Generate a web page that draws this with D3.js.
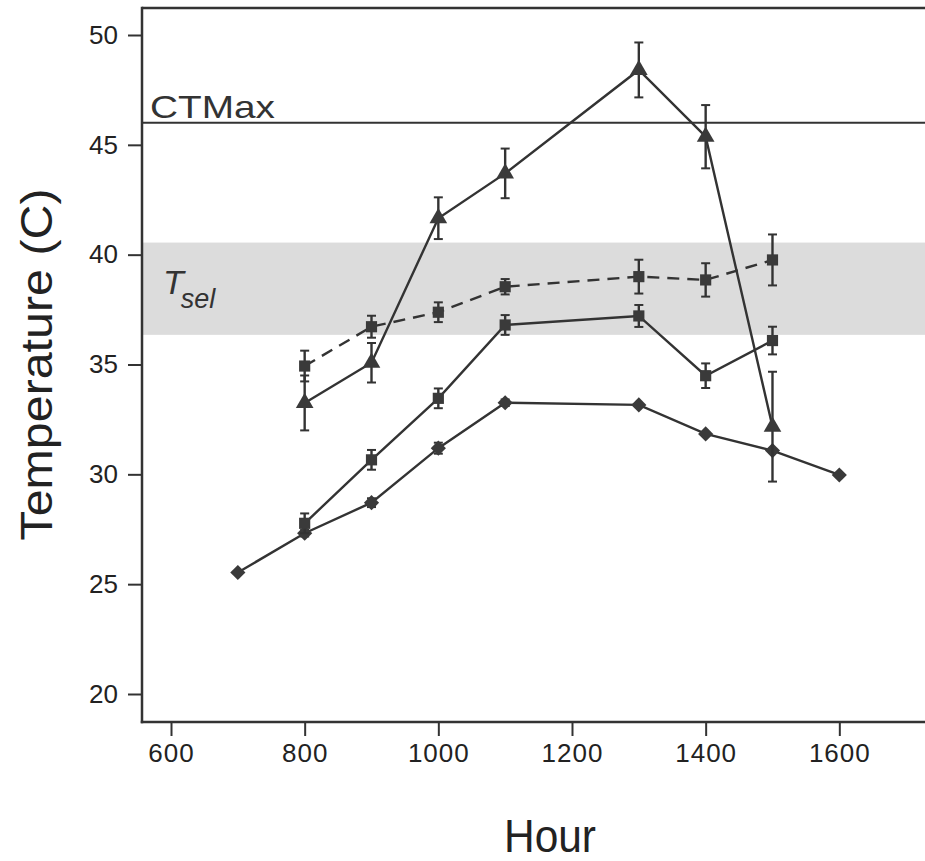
<!DOCTYPE html>
<html>
<head>
<meta charset="utf-8">
<script src="https://cdn.jsdelivr.net/npm/d3@7/dist/d3.min.js"></script>
<style>
  html, body { margin: 0; padding: 0; background: #fff; }
  svg { display: block; font-family: "Liberation Sans", Arial, Helvetica, sans-serif; }
</style>
</head>
<body>
<svg id="chart" width="925" height="861"></svg>
<script>
// ---- data ----
const hours = [700, 800, 900, 1000, 1100, 1300, 1400, 1500, 1600];
const xTicks = [600, 800, 1000, 1200, 1400, 1600];
const yTicks = [20, 25, 30, 35, 40, 45, 50];

// triangles, solid line
const triHours = [800, 900, 1000, 1100, 1300, 1400, 1500];
const triMean  = [33.25, 35.08, 41.66, 43.70, 48.41, 45.37, 32.17];
const triErr   = [1.25, 0.9, 0.95, 1.13, 1.25, 1.44, 2.5];

// squares, dashed line
const sqdHours = [800, 900, 1000, 1100, 1300, 1400, 1500];
const sqdMean  = [34.93, 36.72, 37.38, 38.54, 39.0, 38.85, 39.76];
const sqdErr   = [0.7, 0.5, 0.45, 0.35, 0.77, 0.76, 1.16];

// squares, solid line
const sqHours = [800, 900, 1000, 1100, 1300, 1400, 1500];
const sqMean  = [27.77, 30.66, 33.46, 36.80, 37.21, 34.49, 36.09];
const sqErr   = [0.45, 0.45, 0.45, 0.45, 0.5, 0.56, 0.63];

// diamonds, solid line
const diaHours = [700, 800, 900, 1000, 1100, 1300, 1400, 1500, 1600];
const diaMean  = [25.53, 27.32, 28.71, 31.19, 33.26, 33.16, 31.84, 31.08, 29.97];
const diaErr   = [0, 0.15, 0.2, 0.25, 0.15, 0, 0, 0, 0];

const ctMax = 46;
const tselBand = [36.35, 40.55];

// ---- layout ----
const svg = d3.select("#chart");
const pLeft = 142, pRight = 925, pTop = 8, pBottom = 722;
const x = d3.scaleLinear().domain([556.6, 1728.2]).range([pLeft, pRight]);
const y = d3.scaleLinear().domain([20, 50]).range([694, 35]);
const ink = "#333";

// band
svg.append("rect")
  .attr("x", pLeft).attr("width", pRight - pLeft)
  .attr("y", y(tselBand[1])).attr("height", y(tselBand[0]) - y(tselBand[1]))
  .attr("fill", "#dcdcdc");

// CTMax line
svg.append("line")
  .attr("x1", pLeft).attr("x2", pRight)
  .attr("y1", y(ctMax)).attr("y2", y(ctMax))
  .attr("stroke", ink).attr("stroke-width", 2);
svg.append("text")
  .attr("x", 150).attr("y", y(ctMax) - 5)
  .attr("font-size", 32).attr("fill", ink)
  .attr("textLength", 125).attr("lengthAdjust", "spacingAndGlyphs")
  .text("CTMax");

// Tsel label
const tsel = svg.append("text").attr("x", 163).attr("y", 294).attr("fill", ink).attr("font-style", "italic");
tsel.append("tspan").attr("font-size", 34).text("T");
tsel.append("tspan").attr("font-size", 27).attr("dx", -3).attr("dy", 14).text("sel");

// frame: top
svg.append("line").attr("x1", pLeft).attr("x2", pRight).attr("y1", pTop).attr("y2", pTop)
  .attr("stroke", ink).attr("stroke-width", 2.5);

// axes
const yAxis = d3.axisLeft(y).tickValues(yTicks).tickSize(14).tickPadding(10).tickFormat(d3.format("d"));
const gy = svg.append("g").attr("transform", `translate(${pLeft},0)`).call(yAxis);
gy.select(".domain").remove();
svg.append("line").attr("x1", pLeft).attr("x2", pLeft).attr("y1", pTop - 1.25).attr("y2", pBottom + 1.25)
  .attr("stroke", ink).attr("stroke-width", 2.5);

const xAxis = d3.axisBottom(x).tickValues(xTicks).tickSize(14).tickPadding(8).tickFormat(d3.format("d"));
const gx = svg.append("g").attr("transform", `translate(0,${pBottom})`).call(xAxis);
gx.select(".domain").remove();
svg.append("line").attr("x1", pLeft - 1.25).attr("x2", pRight).attr("y1", pBottom).attr("y2", pBottom)
  .attr("stroke", ink).attr("stroke-width", 2.5);

[gx, gy].forEach(g => {
  g.selectAll(".tick line").attr("stroke", ink).attr("stroke-width", 2);
  g.selectAll(".tick text").attr("fill", "#222").attr("font-size", 26)
    .attr("font-family", "'Liberation Sans', Arial, sans-serif");
});
gx.selectAll(".tick text").attr("letter-spacing", 1);

// axis titles
svg.append("text")
  .attr("transform", `translate(52,${y(35)}) rotate(-90)`)
  .attr("text-anchor", "middle").attr("font-size", 44).attr("fill", "#222")
  .attr("textLength", 352).attr("lengthAdjust", "spacingAndGlyphs")
  .text("Temperature (C)");
svg.append("text")
  .attr("x", 550).attr("y", 852).attr("text-anchor", "middle")
  .attr("font-size", 46).attr("fill", "#222")
  .attr("textLength", 92).attr("lengthAdjust", "spacingAndGlyphs")
  .text("Hour");

// ---- series ----
function pack(hs, ms, es) { return hs.map((h, i) => ({ h, m: ms[i], e: es[i] })); }
const series = [
  { data: pack(diaHours, diaMean, diaErr), shape: "diamond", dash: null },
  { data: pack(sqHours, sqMean, sqErr), shape: "square", dash: null },
  { data: pack(sqdHours, sqdMean, sqdErr), shape: "square", dash: "12,8" },
  { data: pack(triHours, triMean, triErr), shape: "triangle", dash: null },
];

const line = d3.line().x(d => x(d.h)).y(d => y(d.m));
const symbols = {
  diamond: d3.symbol().type(d3.symbolSquare).size(115),
  square: d3.symbol().type(d3.symbolSquare).size(125),
  triangle: d3.symbol().type(d3.symbolTriangle).size(135),
};

series.forEach(s => {
  const g = svg.append("g");
  g.append("path").datum(s.data).attr("d", line)
    .attr("fill", "none").attr("stroke", ink).attr("stroke-width", 2.4)
    .attr("stroke-dasharray", s.dash);
  // error bars
  const eb = g.selectAll(".eb").data(s.data.filter(d => d.e > 0)).join("g");
  eb.append("line")
    .attr("x1", d => x(d.h)).attr("x2", d => x(d.h))
    .attr("y1", d => y(d.m + d.e)).attr("y2", d => y(d.m - d.e))
    .attr("stroke", ink).attr("stroke-width", 2.4);
  [1, -1].forEach(sgn => {
    eb.append("line")
      .attr("x1", d => x(d.h) - 4.5).attr("x2", d => x(d.h) + 4.5)
      .attr("y1", d => y(d.m + sgn * d.e)).attr("y2", d => y(d.m + sgn * d.e))
      .attr("stroke", ink).attr("stroke-width", 2);
  });
  // markers
  g.selectAll(".mk").data(s.data).join("path")
    .attr("d", symbols[s.shape]())
    .attr("transform", d => `translate(${x(d.h)},${y(d.m)})` + (s.shape === "diamond" ? " rotate(45)" : ""))
    .attr("fill", "#3a3a3a").attr("stroke", "none");
});
</script>
</body>
</html>
